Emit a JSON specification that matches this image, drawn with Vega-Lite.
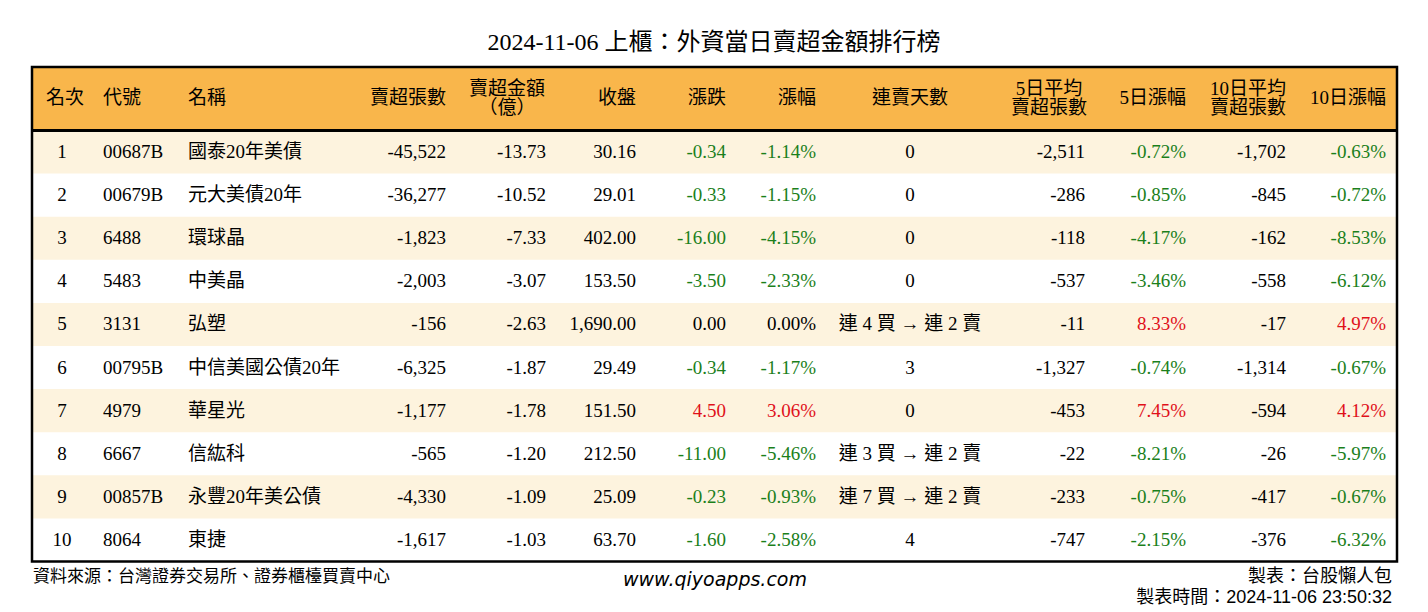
{
  "$schema": "https://vega.github.io/schema/vega-lite/v6.json",
  "width": 1428,
  "height": 612,
  "autosize": {"type": "fit", "contains": "padding"},
  "padding": 0,
  "background": "white",
  "config": {"view": {"stroke": null}, "text": {"font": "Liberation Serif, Noto Sans CJK TC", "fontSize": 19, "baseline": "middle", "color": "#000000"}},
  "datasets": {
    "rows": [
      {"rank": 1, "code": "00687B", "name": "國泰20年美債", "vol": "-45,522", "amt": "-13.73", "close": "30.16", "chg": "-0.34", "pct": "-1.14%", "days": "0", "avg5": "-2,511", "pct5": "-0.72%", "avg10": "-1,702", "pct10": "-0.63%"},
      {"rank": 2, "code": "00679B", "name": "元大美債20年", "vol": "-36,277", "amt": "-10.52", "close": "29.01", "chg": "-0.33", "pct": "-1.15%", "days": "0", "avg5": "-286", "pct5": "-0.85%", "avg10": "-845", "pct10": "-0.72%"},
      {"rank": 3, "code": "6488", "name": "環球晶", "vol": "-1,823", "amt": "-7.33", "close": "402.00", "chg": "-16.00", "pct": "-4.15%", "days": "0", "avg5": "-118", "pct5": "-4.17%", "avg10": "-162", "pct10": "-8.53%"},
      {"rank": 4, "code": "5483", "name": "中美晶", "vol": "-2,003", "amt": "-3.07", "close": "153.50", "chg": "-3.50", "pct": "-2.33%", "days": "0", "avg5": "-537", "pct5": "-3.46%", "avg10": "-558", "pct10": "-6.12%"},
      {"rank": 5, "code": "3131", "name": "弘塑", "vol": "-156", "amt": "-2.63", "close": "1,690.00", "chg": "0.00", "pct": "0.00%", "days": "連 4 買 → 連 2 賣", "avg5": "-11", "pct5": "8.33%", "avg10": "-17", "pct10": "4.97%"},
      {"rank": 6, "code": "00795B", "name": "中信美國公債20年", "vol": "-6,325", "amt": "-1.87", "close": "29.49", "chg": "-0.34", "pct": "-1.17%", "days": "3", "avg5": "-1,327", "pct5": "-0.74%", "avg10": "-1,314", "pct10": "-0.67%"},
      {"rank": 7, "code": "4979", "name": "華星光", "vol": "-1,177", "amt": "-1.78", "close": "151.50", "chg": "4.50", "pct": "3.06%", "days": "0", "avg5": "-453", "pct5": "7.45%", "avg10": "-594", "pct10": "4.12%"},
      {"rank": 8, "code": "6667", "name": "信紘科", "vol": "-565", "amt": "-1.20", "close": "212.50", "chg": "-11.00", "pct": "-5.46%", "days": "連 3 買 → 連 2 賣", "avg5": "-22", "pct5": "-8.21%", "avg10": "-26", "pct10": "-5.97%"},
      {"rank": 9, "code": "00857B", "name": "永豐20年美公債", "vol": "-4,330", "amt": "-1.09", "close": "25.09", "chg": "-0.23", "pct": "-0.93%", "days": "連 7 買 → 連 2 賣", "avg5": "-233", "pct5": "-0.75%", "avg10": "-417", "pct10": "-0.67%"},
      {"rank": 10, "code": "8064", "name": "東捷", "vol": "-1,617", "amt": "-1.03", "close": "63.70", "chg": "-1.60", "pct": "-2.58%", "days": "4", "avg5": "-747", "pct5": "-2.15%", "avg10": "-376", "pct10": "-6.32%"}
    ]
  },
  "data": {"name": "rows"},
  "layer": [
    {
      "data": {"values": [{}]},
      "mark": {"type": "rect", "fill": "#F9B64B"},
      "encoding": {
        "x": {"datum": 32, "type": "quantitative", "scale": {"domain": [0, 1428], "nice": false, "zero": false}, "axis": null},
        "x2": {"datum": 1397},
        "y": {"datum": -0.972, "type": "quantitative", "scale": {"domain": [-2.527, 11.672], "nice": false, "zero": false, "reverse": true}, "axis": null},
        "y2": {"datum": 0.5}
      }
    },
    {
      "transform": [{"filter": "datum.rank % 2 == 1"}, {"calculate": "datum.rank - 0.5", "as": "y0"}, {"calculate": "datum.rank + 0.5", "as": "y1"}],
      "mark": {"type": "rect", "fill": "#FDF3DE"},
      "encoding": {
        "x": {"datum": 32, "type": "quantitative"},
        "x2": {"datum": 1397},
        "y": {"field": "y0", "type": "quantitative"},
        "y2": {"field": "y1"}
      }
    },
    {
      "data": {"values": [{}]},
      "mark": {"type": "rule", "stroke": "#000000", "strokeWidth": 3},
      "encoding": {
        "x": {"datum": 32, "type": "quantitative"},
        "x2": {"datum": 1397},
        "y": {"datum": 0.5, "type": "quantitative"}
      }
    },
    {
      "data": {"values": [{}]},
      "mark": {"type": "rect", "fillOpacity": 0, "stroke": "#000000", "strokeWidth": 2.5},
      "encoding": {
        "x": {"datum": 32, "type": "quantitative"},
        "x2": {"datum": 1397},
        "y": {"datum": -0.972, "type": "quantitative"},
        "y2": {"datum": 10.5}
      }
    },
    {"data": {"values": [{}]}, "mark": {"type": "text", "text": "2024-11-06 上櫃：外資當日賣超金額排行榜", "fontSize": 24, "align": "center"},
     "encoding": {"x": {"datum": 714, "type": "quantitative"}, "y": {"datum": -1.529, "type": "quantitative"}}},
    {"data": {"values": [{}]}, "mark": {"type": "text", "text": "名次", "align": "center"},
     "encoding": {"x": {"datum": 65, "type": "quantitative"}, "y": {"datum": -0.253, "type": "quantitative"}}},
    {"data": {"values": [{}]}, "mark": {"type": "text", "text": "代號", "align": "left"},
     "encoding": {"x": {"datum": 103, "type": "quantitative"}, "y": {"datum": -0.253, "type": "quantitative"}}},
    {"data": {"values": [{}]}, "mark": {"type": "text", "text": "名稱", "align": "left"},
     "encoding": {"x": {"datum": 188, "type": "quantitative"}, "y": {"datum": -0.253, "type": "quantitative"}}},
    {"data": {"values": [{}]}, "mark": {"type": "text", "text": "賣超張數", "align": "right"},
     "encoding": {"x": {"datum": 446, "type": "quantitative"}, "y": {"datum": -0.253, "type": "quantitative"}}},
    {"data": {"values": [{}]}, "mark": {"type": "text", "text": ["賣超金額", "（億）"], "align": "center", "lineHeight": 19},
     "encoding": {"x": {"datum": 507, "type": "quantitative"}, "y": {"datum": -0.473, "type": "quantitative"}}},
    {"data": {"values": [{}]}, "mark": {"type": "text", "text": "收盤", "align": "right"},
     "encoding": {"x": {"datum": 636, "type": "quantitative"}, "y": {"datum": -0.253, "type": "quantitative"}}},
    {"data": {"values": [{}]}, "mark": {"type": "text", "text": "漲跌", "align": "right"},
     "encoding": {"x": {"datum": 726, "type": "quantitative"}, "y": {"datum": -0.253, "type": "quantitative"}}},
    {"data": {"values": [{}]}, "mark": {"type": "text", "text": "漲幅", "align": "right"},
     "encoding": {"x": {"datum": 816, "type": "quantitative"}, "y": {"datum": -0.253, "type": "quantitative"}}},
    {"data": {"values": [{}]}, "mark": {"type": "text", "text": "連賣天數", "align": "center"},
     "encoding": {"x": {"datum": 910, "type": "quantitative"}, "y": {"datum": -0.253, "type": "quantitative"}}},
    {"data": {"values": [{}]}, "mark": {"type": "text", "text": ["5日平均", "賣超張數"], "align": "center", "lineHeight": 19},
     "encoding": {"x": {"datum": 1049, "type": "quantitative"}, "y": {"datum": -0.473, "type": "quantitative"}}},
    {"data": {"values": [{}]}, "mark": {"type": "text", "text": "5日漲幅", "align": "right"},
     "encoding": {"x": {"datum": 1186, "type": "quantitative"}, "y": {"datum": -0.253, "type": "quantitative"}}},
    {"data": {"values": [{}]}, "mark": {"type": "text", "text": ["10日平均", "賣超張數"], "align": "center", "lineHeight": 19},
     "encoding": {"x": {"datum": 1248, "type": "quantitative"}, "y": {"datum": -0.473, "type": "quantitative"}}},
    {"data": {"values": [{}]}, "mark": {"type": "text", "text": "10日漲幅", "align": "right"},
     "encoding": {"x": {"datum": 1386, "type": "quantitative"}, "y": {"datum": -0.253, "type": "quantitative"}}},
    {"mark": {"type": "text", "align": "center"},
     "encoding": {"x": {"datum": 62, "type": "quantitative"}, "y": {"field": "rank", "type": "quantitative"}, "text": {"field": "rank"}}},
    {"mark": {"type": "text", "align": "left"},
     "encoding": {"x": {"datum": 103, "type": "quantitative"}, "y": {"field": "rank", "type": "quantitative"}, "text": {"field": "code"}}},
    {"mark": {"type": "text", "align": "left"},
     "encoding": {"x": {"datum": 188, "type": "quantitative"}, "y": {"field": "rank", "type": "quantitative"}, "text": {"field": "name"}}},
    {"mark": {"type": "text", "align": "right"},
     "encoding": {"x": {"datum": 446, "type": "quantitative"}, "y": {"field": "rank", "type": "quantitative"}, "text": {"field": "vol"}}},
    {"mark": {"type": "text", "align": "right"},
     "encoding": {"x": {"datum": 546, "type": "quantitative"}, "y": {"field": "rank", "type": "quantitative"}, "text": {"field": "amt"}}},
    {"mark": {"type": "text", "align": "right"},
     "encoding": {"x": {"datum": 636, "type": "quantitative"}, "y": {"field": "rank", "type": "quantitative"}, "text": {"field": "close"}}},
    {"mark": {"type": "text", "align": "right"},
     "encoding": {"x": {"datum": 726, "type": "quantitative"}, "y": {"field": "rank", "type": "quantitative"}, "text": {"field": "chg"},
       "color": {"condition": [{"test": "toNumber(datum.chg) < 0", "value": "#1B7F1B"}, {"test": "toNumber(datum.chg) > 0", "value": "#E0101A"}], "value": "#000000"}}},
    {"mark": {"type": "text", "align": "right"},
     "encoding": {"x": {"datum": 816, "type": "quantitative"}, "y": {"field": "rank", "type": "quantitative"}, "text": {"field": "pct"},
       "color": {"condition": [{"test": "toNumber(replace(datum.pct, '%', '')) < 0", "value": "#1B7F1B"}, {"test": "toNumber(replace(datum.pct, '%', '')) > 0", "value": "#E0101A"}], "value": "#000000"}}},
    {"mark": {"type": "text", "align": "center"},
     "encoding": {"x": {"datum": 910, "type": "quantitative"}, "y": {"field": "rank", "type": "quantitative"}, "text": {"field": "days"}}},
    {"mark": {"type": "text", "align": "right"},
     "encoding": {"x": {"datum": 1085, "type": "quantitative"}, "y": {"field": "rank", "type": "quantitative"}, "text": {"field": "avg5"}}},
    {"mark": {"type": "text", "align": "right"},
     "encoding": {"x": {"datum": 1186, "type": "quantitative"}, "y": {"field": "rank", "type": "quantitative"}, "text": {"field": "pct5"},
       "color": {"condition": [{"test": "toNumber(replace(datum.pct5, '%', '')) < 0", "value": "#1B7F1B"}, {"test": "toNumber(replace(datum.pct5, '%', '')) > 0", "value": "#E0101A"}], "value": "#000000"}}},
    {"mark": {"type": "text", "align": "right"},
     "encoding": {"x": {"datum": 1286, "type": "quantitative"}, "y": {"field": "rank", "type": "quantitative"}, "text": {"field": "avg10"}}},
    {"mark": {"type": "text", "align": "right"},
     "encoding": {"x": {"datum": 1386, "type": "quantitative"}, "y": {"field": "rank", "type": "quantitative"}, "text": {"field": "pct10"},
       "color": {"condition": [{"test": "toNumber(replace(datum.pct10, '%', '')) < 0", "value": "#1B7F1B"}, {"test": "toNumber(replace(datum.pct10, '%', '')) > 0", "value": "#E0101A"}], "value": "#000000"}}},
    {"data": {"values": [{}]}, "mark": {"type": "text", "text": "資料來源：台灣證券交易所、證券櫃檯買賣中心", "align": "left", "fontSize": 17, "font": "Liberation Sans, Noto Sans CJK TC"},
     "encoding": {"x": {"datum": 33, "type": "quantitative"}, "y": {"datum": 10.862, "type": "quantitative"}}},
    {"data": {"values": [{}]}, "mark": {"type": "text", "text": "www.qiyoapps.com", "align": "center", "fontSize": 19, "font": "DejaVu Sans", "fontStyle": "italic"},
     "encoding": {"x": {"datum": 715, "type": "quantitative"}, "y": {"datum": 10.93, "type": "quantitative"}}},
    {"data": {"values": [{}]}, "mark": {"type": "text", "text": "製表：台股懶人包", "align": "right", "fontSize": 18, "font": "Liberation Sans, Noto Sans CJK TC"},
     "encoding": {"x": {"datum": 1392, "type": "quantitative"}, "y": {"datum": 10.862, "type": "quantitative"}}},
    {"data": {"values": [{}]}, "mark": {"type": "text", "text": "製表時間：2024-11-06 23:50:32", "align": "right", "fontSize": 18, "font": "Liberation Sans, Noto Sans CJK TC"},
     "encoding": {"x": {"datum": 1392, "type": "quantitative"}, "y": {"datum": 11.349, "type": "quantitative"}}}
  ]
}
